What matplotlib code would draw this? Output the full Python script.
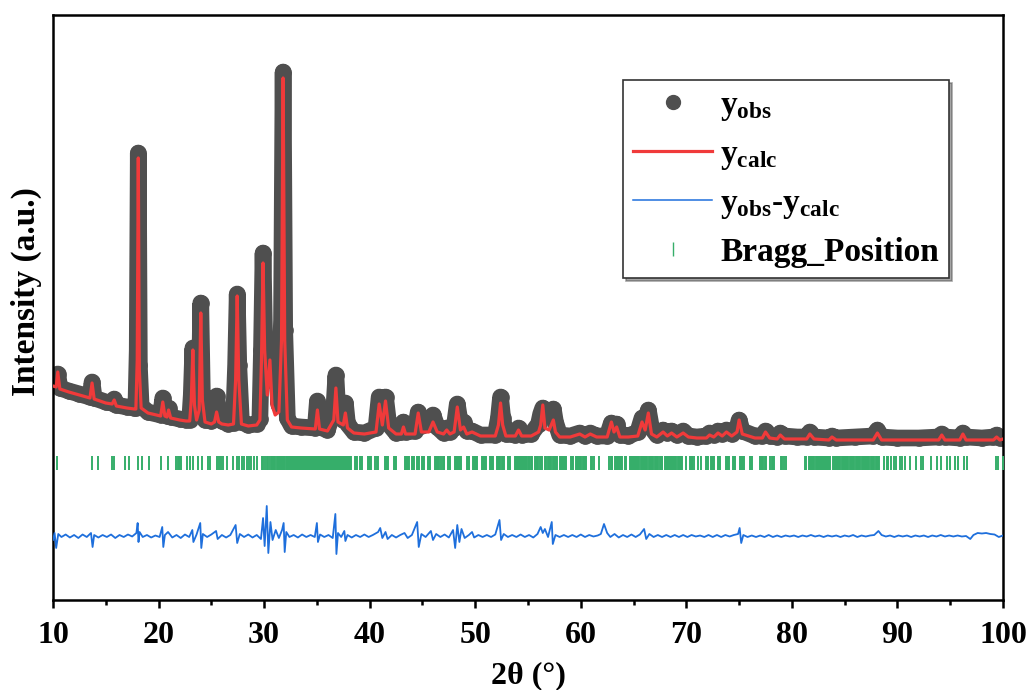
import matplotlib.pyplot as plt
from matplotlib.lines import Line2D
import numpy as np

plt.rcParams['font.family'] = 'Liberation Serif'
plt.rcParams['font.weight'] = 'bold'
plt.rcParams['mathtext.fontset'] = 'custom'
plt.rcParams['mathtext.rm'] = 'Liberation Serif:bold'
plt.rcParams['mathtext.it'] = 'Liberation Serif:bold'
plt.rcParams['mathtext.bf'] = 'Liberation Serif:bold'

# perfil observado y calculado (2theta, intensidad en u.a.)
two_theta = [
    10.0, 10.3, 10.45, 10.65, 11.5, 12.5, 13.5, 13.7, 13.9, 15.0, 15.6, 15.8, 16.0, 17.0, 17.7,
    17.85, 17.98, 18.08, 18.18, 18.35, 19.0,
    20.2, 20.4, 20.6, 20.8, 20.95, 21.15, 22.0, 22.6,
    22.95, 23.1, 23.25, 23.4, 23.6, 23.85, 24.0, 24.15, 24.4, 25.0, 25.3, 25.5, 25.7, 26.0, 26.6,
    27.1, 27.3, 27.45, 27.6, 27.85, 28.5, 29.3,
    29.6, 29.75, 29.9, 30.05, 30.3, 30.55, 30.75, 31.05, 31.4, 31.65, 31.8, 31.95, 32.2, 32.6, 33.5,
    34.85, 35.05, 35.25, 36.0, 36.6, 36.8, 37.0, 37.5, 37.7, 37.9, 38.5,
    39.5, 40.6, 40.9, 41.2, 41.5, 41.8, 42.5, 43.0, 43.2, 43.4, 44.3, 44.6, 44.9,
    45.6, 46.0, 46.4, 47.0, 47.3, 47.6, 48.0, 48.3, 48.6, 48.9, 49.2, 49.7, 50.5,
    51.9, 52.2, 52.4, 52.6, 52.9, 53.8, 54.1, 54.4, 55.3, 56.0, 56.2,
    56.4, 56.6, 57.0, 57.4, 57.6, 58.0, 59.0, 59.9, 60.4, 60.9, 61.5,
    62.5, 62.9, 63.15, 63.4, 63.7, 64.5, 65.4, 65.8, 66.1, 66.4,
    66.7, 67.2, 67.8, 68.2, 68.6, 69.1, 69.7, 70.2, 71.0,
    71.9, 72.2, 72.6, 73.0, 73.4, 73.8, 74.3, 74.8, 75.0, 75.3,
    76.5, 77.2, 77.5, 77.9, 78.6, 78.9, 79.3, 80.5, 81.4, 81.7,
    82.1, 83.5, 83.8, 84.2, 86.0, 87.7, 88.1, 88.5, 90.0, 92.0,
    93.9, 94.2, 94.5, 95.9, 96.2, 96.5, 98.0, 99.1, 99.4, 99.7, 100.0,
]
y_calc = [
    2140, 2130, 2280, 2110, 2080, 2050, 2020, 2170, 2010, 1970, 1960, 2000, 1940, 1920, 1910,
    1910, 2400, 4420, 2300, 1920, 1870,
    1840, 1980, 1840, 1830, 1900, 1820, 1800, 1790,
    1790, 2000, 2500, 1950, 1800, 1900, 2870, 2000, 1780, 1760, 1780, 1880, 1780, 1760, 1750,
    1760, 2200, 3040, 2200, 1760, 1740, 1750,
    1800, 2400, 3370, 2500, 2050, 2400, 1950, 1850, 1880, 2600, 5220, 2600, 1800, 1730, 1720,
    1710, 1900, 1710, 1690, 1800, 2120, 1780, 1750, 1870, 1720, 1670,
    1660, 1680, 1960, 1750, 1990, 1720, 1660, 1660, 1730, 1660, 1660, 1870, 1680,
    1680, 1780, 1680, 1660, 1700, 1660, 1680, 1930, 1700, 1730, 1660, 1680, 1640,
    1640, 1750, 1970, 1750, 1640, 1640, 1700, 1640, 1640, 1680, 1750,
    1950, 1720, 1700, 1800, 1680, 1630, 1630, 1660, 1630, 1660, 1630,
    1630, 1780, 1680, 1730, 1630, 1630, 1640, 1780, 1700, 1870,
    1660, 1630, 1680, 1640, 1670, 1630, 1670, 1630, 1620,
    1620, 1650, 1630, 1670, 1640, 1680, 1640, 1680, 1800, 1660,
    1620, 1620, 1680, 1620, 1610, 1650, 1610, 1610, 1610, 1660,
    1610, 1600, 1630, 1600, 1600, 1600, 1670, 1600, 1600, 1600,
    1600, 1650, 1600, 1600, 1660, 1600, 1600, 1600, 1630, 1600, 1610,
]
y_obs = [
    2150, 2160, 2260, 2120, 2090, 2060, 2030, 2180, 2020, 1980, 1970, 2010, 1950, 1930, 1920,
    1920, 2500, 4470, 2350, 1940, 1880,
    1850, 2020, 1860, 1840, 1920, 1830, 1810, 1800,
    1800, 2050, 2520, 2000, 1850, 1950, 2970, 2050, 1800, 1790, 1880, 2040, 1880, 1790, 1760,
    1770, 2350, 3060, 2350, 1780, 1750, 1760,
    1810, 2500, 3470, 2600, 2200, 2450, 2300, 2450, 1950, 2800, 5280, 2700, 1820, 1740, 1730,
    1720, 1990, 1730, 1700, 1900, 2250, 1850, 1800, 1970, 1760, 1680,
    1670, 1720, 2030, 1820, 2030, 1760, 1670, 1680, 1780, 1680, 1690, 1880, 1740,
    1760, 1850, 1730, 1670, 1720, 1680, 1720, 1960, 1760, 1780, 1690, 1690, 1650,
    1650, 1820, 2030, 1820, 1660, 1650, 1720, 1650, 1660, 1760, 1860,
    1920, 1900, 1880, 1910, 1780, 1650, 1640, 1670, 1640, 1670, 1640,
    1640, 1770, 1750, 1760, 1650, 1640, 1680, 1820, 1800, 1900,
    1720, 1650, 1700, 1670, 1690, 1650, 1690, 1640, 1630,
    1640, 1670, 1650, 1690, 1660, 1700, 1660, 1720, 1800, 1690,
    1640, 1640, 1690, 1640, 1630, 1670, 1640, 1630, 1630, 1680,
    1630, 1620, 1640, 1620, 1630, 1640, 1700, 1630, 1620, 1620,
    1630, 1660, 1630, 1620, 1670, 1630, 1620, 1630, 1650, 1620, 1620,
]

# diferencia yobs - ycalc
diff_points = [
    (10.0, -40), (10.15, 30), (10.3, -120), (10.5, 20), (10.8, -10), (11.2, 15), (11.6, -15),
    (12.0, 10), (12.4, -20), (12.8, 15), (13.2, -10), (13.6, 30), (13.75, -110), (13.9, 10),
    (14.3, -15), (14.7, 10), (15.1, -10), (15.5, 15), (15.9, -20), (16.3, 10), (16.7, -10),
    (17.1, 15), (17.5, -5), (17.9, 30), (18.02, 130), (18.1, -60), (18.2, 40), (18.5, -10),
    (18.9, 10), (19.3, -15), (19.7, 5), (20.1, -10), (20.35, 90), (20.45, -110), (20.6, 10),
    (20.9, 40), (21.3, -15), (21.7, 10), (22.1, -20), (22.5, 15), (22.9, -10), (23.2, 60),
    (23.3, -60), (23.6, 15), (23.95, 130), (24.05, -120), (24.2, 20), (24.6, -10), (25.0, 15),
    (25.45, 50), (25.6, -30), (26.0, 10), (26.4, -15), (26.8, 10), (27.3, 110), (27.45, -70),
    (27.7, 20), (28.1, -10), (28.5, 15), (28.9, -15), (29.3, 10), (29.7, -30), (29.9, 180),
    (30.05, -100), (30.25, 300), (30.4, -170), (30.6, 140), (30.8, -40), (31.1, 60),
    (31.4, -20), (31.7, 60), (31.85, 130), (31.95, -160), (32.1, 40), (32.4, -10), (32.8, 10),
    (33.2, -15), (33.6, 15), (34.0, -10), (34.4, 10), (34.8, -10), (35.0, 130), (35.1, -60),
    (35.3, 15), (35.7, -10), (36.1, 10), (36.5, -20), (36.75, 220), (36.85, -180), (37.0, 30),
    (37.3, -10), (37.6, 50), (37.7, -50), (37.9, 10), (38.3, -15), (38.7, 10), (39.1, -10),
    (39.5, 15), (39.9, -10), (40.3, 10), (40.8, 40), (41.0, 80), (41.2, -20), (41.5, 40),
    (41.7, -30), (42.1, 10), (42.5, -15), (42.9, 10), (43.3, 30), (43.6, -20), (44.0, 10),
    (44.5, 140), (44.65, -110), (44.9, 20), (45.3, -10), (45.8, 50), (46.0, -40), (46.3, 20),
    (46.7, -10), (47.1, 15), (47.5, -15), (47.9, 60), (48.1, -120), (48.3, 110), (48.5, -60),
    (48.7, 70), (49.0, -20), (49.4, 10), (49.7, 40), (49.9, -15), (50.3, 10), (50.7, -10),
    (51.1, 10), (51.5, -10), (51.9, 15), (52.3, 160), (52.45, -40), (52.7, 20), (53.1, -10),
    (53.5, 10), (53.9, -10), (54.3, 15), (54.7, -10), (55.1, 10), (55.5, -15), (55.9, 20),
    (56.2, 90), (56.4, 30), (56.6, 70), (56.9, -10), (57.25, 140), (57.35, -80), (57.6, 10),
    (58.0, -10), (58.4, 10), (58.8, -10), (59.2, 10), (59.6, -10), (60.0, 15), (60.4, -10),
    (60.8, 10), (61.2, -5), (61.6, 5), (61.9, 20), (62.2, 120), (62.5, 30), (62.8, -10),
    (63.2, 20), (63.6, -15), (64.0, 10), (64.4, -10), (64.8, 15), (65.2, -10), (65.6, 15),
    (66.0, 70), (66.2, -30), (66.5, 20), (66.9, -10), (67.3, 10), (67.7, -10), (68.1, 10),
    (68.5, -10), (68.9, 10), (69.3, -10), (69.7, 10), (70.1, -10), (70.5, 10), (70.9, -5),
    (71.3, 5), (71.7, -10), (72.1, 10), (72.5, -10), (72.9, 10), (73.3, -10), (73.7, 10),
    (74.1, -5), (74.5, 10), (74.9, 20), (75.05, 80), (75.2, -70), (75.4, 10), (75.8, -10),
    (76.2, 5), (76.6, -10), (77.0, 5), (77.4, -10), (77.8, 10), (78.2, -10), (78.6, 5),
    (79.0, -10), (79.4, 5), (79.8, -5), (80.2, 5), (80.6, -10), (81.0, 5), (81.4, -5),
    (81.8, 10), (82.2, -5), (82.6, 5), (83.0, -10), (83.4, 5), (83.8, -5), (84.2, 5),
    (84.6, -10), (85.0, 5), (85.4, -5), (85.8, 10), (86.2, -10), (86.6, 5), (87.0, -5),
    (87.4, 5), (87.8, 10), (88.2, 50), (88.5, 10), (88.9, -5), (89.3, 5), (89.7, -10),
    (90.1, 5), (90.5, -5), (90.9, 5), (91.3, -10), (91.7, 5), (92.1, -5), (92.5, 5),
    (92.9, -10), (93.3, 5), (93.7, -5), (94.1, 10), (94.5, -5), (94.9, 5), (95.3, -5),
    (95.7, 5), (96.1, -5), (96.5, 0), (96.9, -30), (97.2, 10), (97.6, 30), (98.0, 25),
    (98.4, 30), (98.8, 20), (99.2, 15), (99.6, -10), (100.0, 5),
]

# posiciones de Bragg (2theta)
bragg_pos = [
    10.41, 13.66, 14.23, 15.56, 15.78, 16.82, 17.23, 18.08, 18.40, 19.13, 20.20, 20.93,
    21.65, 21.85, 21.95, 22.05, 22.15, 22.72, 22.98, 23.23, 23.77, 24.15, 24.72, 24.87,
    25.51, 25.68, 25.90, 26.12, 26.45, 27.02, 27.40, 27.62, 27.87, 28.09, 28.35, 28.60,
    28.76, 29.04, 29.30, 29.78, 29.93, 30.10, 30.25, 30.40, 30.55,
    30.71, 30.79, 30.90, 30.98, 31.07, 31.18, 31.27, 31.36, 31.47, 31.55, 31.66, 31.74,
    31.85, 31.93, 32.04, 32.13, 32.22, 32.33, 32.41, 32.52, 32.60, 32.71, 32.80, 32.89,
    32.99, 33.08, 33.18, 33.27, 33.37, 33.45, 33.56, 33.64, 33.75, 33.83, 33.94, 34.02,
    34.12, 34.21, 34.31, 34.40, 34.49, 34.59, 34.68, 34.78, 34.86, 34.97, 35.05, 35.15,
    35.24, 35.33, 35.43, 35.52, 35.62, 35.70, 35.81, 35.89, 36.00, 36.08, 36.18, 36.27,
    36.37, 36.45, 36.56, 36.64, 36.74, 36.83, 36.93, 37.02, 37.11, 37.21, 37.30, 37.39,
    37.49, 37.58, 37.67, 37.77, 37.86, 37.94,
    38.02, 38.12, 38.22, 38.60, 38.70, 38.80, 39.08, 39.18, 39.26, 39.86, 39.96, 40.06,
    40.14, 40.55, 40.65, 40.76, 41.44, 41.54, 41.64, 41.74, 42.32, 42.42, 42.50, 43.33,
    43.43, 43.53, 43.63, 43.73, 44.02, 44.12, 44.22, 44.45, 44.55, 44.65, 44.92, 45.02,
    45.12, 45.55, 45.65, 45.75, 46.18, 46.28, 46.38, 46.48, 46.58, 46.80, 46.90, 47.00,
    47.08, 47.45, 47.55, 47.65, 48.08, 48.18, 48.28, 48.38, 48.48, 48.58, 48.66, 49.18,
    49.28, 49.38, 49.45, 49.80, 49.90, 50.00, 50.10, 50.20, 50.60, 50.70, 50.80, 50.90,
    51.00, 51.38, 51.48, 51.58, 51.66, 52.02, 52.12, 52.22, 52.30, 52.50, 52.60, 52.70,
    53.12, 53.22, 53.32, 53.75, 53.85, 53.95, 54.05, 54.15, 54.25, 54.35, 54.45, 54.55,
    54.65, 54.75, 54.85, 54.95, 55.05, 55.12, 55.30, 55.40, 55.62, 55.72, 55.82, 55.90,
    56.10, 56.20, 56.30, 56.58, 56.68, 56.88, 56.98, 57.08, 57.16, 57.36, 57.46, 57.56,
    57.66, 57.76, 58.00, 58.10, 58.20, 58.30, 58.40, 58.50, 58.58, 59.10, 59.20, 59.30,
    59.50, 59.60, 59.70, 59.80, 59.90, 60.00, 60.20, 60.30, 60.40, 60.48, 61.00, 61.10,
    61.28, 61.76,
    62.72, 62.82, 62.92, 63.00, 63.20, 63.30, 63.40, 63.50, 63.60, 63.70, 63.80, 63.90,
    64.15, 64.25, 64.62, 64.72, 64.82, 64.92, 65.02, 65.12, 65.22, 65.32, 65.42, 65.52,
    65.72, 65.82, 65.92, 66.02, 66.12, 66.22, 66.32, 66.42, 66.52, 66.62, 66.72, 66.80,
    67.00, 67.10, 67.20, 67.27, 67.46, 67.56, 67.66, 67.74, 67.94, 68.04, 68.14, 68.24,
    68.34, 68.44, 68.54, 68.64, 68.74, 68.84, 68.94, 69.00, 69.20, 69.30, 69.40, 69.50,
    69.60, 69.97, 70.30, 70.40, 70.50, 70.58, 70.76, 71.07, 71.39, 71.88, 71.98, 72.08,
    72.36, 72.46, 72.56, 72.64, 73.00, 73.10, 73.20, 73.78, 73.88, 73.98, 74.06, 74.42,
    74.52, 74.62, 75.05, 75.15, 75.25, 75.35, 75.45, 76.00, 76.10, 76.20, 76.95, 77.05,
    77.15, 77.30, 77.45, 77.55, 77.95, 78.10, 78.25, 78.35, 78.96, 79.08, 79.28, 79.40,
    81.24, 81.36, 81.64, 81.74, 81.84, 81.94, 82.04, 82.14, 82.24, 82.34, 82.44, 82.54,
    82.64, 82.74, 82.84, 82.94, 83.04, 83.14, 83.24, 83.34, 83.44, 83.54, 83.64, 83.86,
    83.96, 84.06, 84.16, 84.26, 84.40, 84.50, 84.60, 84.70, 84.80, 84.95, 85.05, 85.15,
    85.25, 85.35, 85.50, 85.60, 85.70, 85.80, 85.90, 86.05, 86.15, 86.25, 86.35, 86.45,
    86.60, 86.70, 86.80, 86.90, 87.00, 87.15, 87.25, 87.35, 87.50, 87.60, 87.70, 87.80,
    87.95, 88.05, 88.15, 88.24,
    88.70, 89.00, 89.15, 89.42, 89.70, 89.90, 90.20, 90.40, 90.70, 91.18, 91.80, 92.25,
    92.40, 93.22, 93.70, 94.17, 94.65, 94.96, 95.44, 95.75, 96.35, 96.55, 99.35, 99.55,
    99.97,
]

diff_offset = 640   # nivel de la curva de diferencia
bragg_level = 1375  # nivel de las marcas de Bragg

gris = '#4f4f4f'
rojo = '#f03a3a'
azul = '#1e6fdc'
verde = '#36ae6a'

diff_x = [p[0] for p in diff_points]
diff_y = np.array([p[1] for p in diff_points]) + diff_offset

fig = plt.figure(figsize=(10.31, 6.9), dpi=100)
ax = fig.add_axes([53 / 1031, 90 / 690, 950 / 1031, 585 / 690])

ax.plot(two_theta, y_obs, color=gris, lw=12, solid_joinstyle='round',
        solid_capstyle='round', zorder=2)
ax.plot(two_theta, y_obs, ls='none', marker='o', ms=11, color=gris, zorder=2)
ax.plot(two_theta, y_calc, color=rojo, lw=2.3, zorder=3)
ax.plot(diff_x, diff_y, color=azul, lw=1.3, zorder=3)
ax.plot(bragg_pos, [bragg_level] * len(bragg_pos), ls='none', marker='|',
        ms=9.5, mew=1.4, color=verde, zorder=3)

ax.set_xlim(10, 100)
ax.set_ylim(0, 5850)
ax.set_xticks(range(10, 101, 10))
ax.set_xticks(range(15, 100, 10), minor=True)
ax.set_yticks([])
ax.tick_params(axis='x', which='major', direction='out', length=6, width=1.8,
               labelsize=23, pad=9)
ax.tick_params(axis='x', which='minor', direction='out', length=3.5, width=1.8)
for s in ax.spines.values():
    s.set_linewidth(1.8)

ax.set_xlabel('2θ (°)', fontsize=23, fontweight='bold', labelpad=8)
ax.set_ylabel('Intensity (a.u.)', fontsize=24, fontweight='bold')
ax.yaxis.set_label_coords(-0.012, 0.527)

handles = [
    Line2D([], [], ls='none', marker='o', ms=10, color=gris),
    Line2D([], [], color=rojo, lw=2.3),
    Line2D([], [], color=azul, lw=1.1),
    Line2D([], [], ls='none', marker='|', ms=9.5, mew=1.0, color=verde),
]
labels = [r'$\mathrm{y_{obs}}$', r'$\mathrm{y_{calc}}$',
          r'$\mathrm{y_{obs}\text{-}y_{calc}}$', 'Bragg_Position']
leg = ax.legend(handles, labels, loc='upper right', bbox_to_anchor=(0.943, 0.889),
                borderaxespad=0, fontsize=24, frameon=True, fancybox=False,
                shadow=True, framealpha=1, edgecolor='#333333',
                handlelength=2.35, handletextpad=0.25, borderpad=0.3,
                labelspacing=0.48)
leg.get_frame().set_linewidth(1.2)

fig.savefig('out.png', dpi=100)
